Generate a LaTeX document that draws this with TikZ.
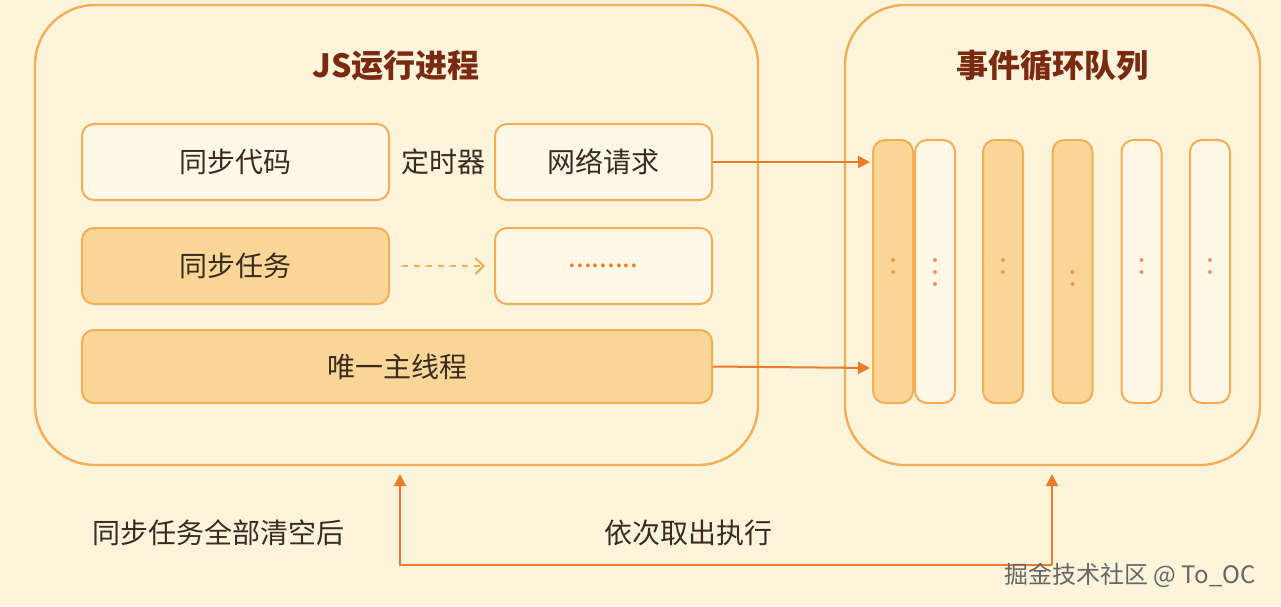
\documentclass[tikz,border=0pt]{standalone}
\usepackage{fontspec}
\setmainfont{Noto Sans CJK SC}
\usetikzlibrary{arrows.meta}
\definecolor{bgc}{HTML}{FDF4DC}
\definecolor{edge}{HTML}{F6AE55}
\definecolor{warm}{HTML}{FBD696}
\definecolor{pale}{HTML}{FFF8E8}
\definecolor{arr}{HTML}{EF7A2A}
\definecolor{ttl}{HTML}{7A2A10}
\definecolor{ink}{HTML}{3A2A20}
\tikzset{
  panel/.style={draw=edge, line width=1.2pt, fill=bgc, rounded corners=30pt},
  box/.style={draw=edge, line width=1pt, fill=pale, rounded corners=6pt, inner sep=0pt, text=ink, font=\fontsize{14}{16}\selectfont},
  hot/.style={box, fill=warm},
  col/.style={draw=edge, line width=1pt, fill=pale, rounded corners=7pt, minimum width=20pt, minimum height=131.5pt, inner sep=0pt},
  flow/.style={draw=arr, line width=1pt, -{Triangle[length=6pt,width=6pt]}},
  ttxt/.style={text=ttl, font=\bfseries\fontsize{16}{18}\selectfont},
  ptxt/.style={text=ink, font=\fontsize{14}{16}\selectfont},
  dot/.style={fill=arr!80, circle, inner sep=0pt, minimum size=2pt}
}
\begin{document}
\begin{tikzpicture}[x=0.5pt,y=-0.5pt]
    \fill[bgc] (0,0) rectangle (1281,606);
    \useasboundingbox (0,0) rectangle (1281,606);
    % the two panels
    \draw[panel] (35,5) rectangle (758,465);
    \draw[panel] (845,5) rectangle (1260,465);
    \node[ttxt] (jst) at (396,66) {JS运行进程};
    \node[ttxt] (qt) at (1052,66) {事件循环队列};
    % left panel
    \node[box, minimum width=153.5pt, minimum height=38pt] (sync) at (235.5,162) {同步代码};
    \node[ptxt] (timer) at (443,162) {定时器};
    \node[box, minimum width=108.5pt, minimum height=38pt] (net) at (603.5,162) {网络请求};
    \node[hot, minimum width=153.5pt, minimum height=38pt] (task) at (235.5,266) {同步任务};
    \node[box, minimum width=108.5pt, minimum height=38pt] (more) at (603.5,266) {\textcolor{arr}{.........}};
    \node[hot, minimum width=315pt, minimum height=36.5pt] (main) at (397,366.5) {唯一主线程};
    % queue columns
    \foreach \n/\x/\s in {1/893/hot,2/935/box,3/1003/hot,4/1072.5/hot,5/1141.5/box,6/1210/box}
      \node[col, \s] (c\n) at (\x,271.5) {};
    \foreach \x/\y in {893/260,893/272,935/260,935/272,935/284,1003/260,1003/272,1072.5/272,1072.5/284,1141.5/260,1141.5/272,1210/260,1210/272}
      \node[dot] at (\x,\y) {};
    \coordinate (qin) at (870,162);
    \coordinate (qmain) at (870,368);
    \draw[flow] (net.east) -- (qin);
    \draw[flow] (main.east) -- (qmain);
    \draw[draw=edge, line width=1pt, dashed, -{Straight Barb[length=4pt]}] (402,266) -- (485,266);
    % loop back
    \coordinate (lb) at (400,565);
    \coordinate (rb) at (1052,565);
    \coordinate (lt) at (400,474);
    \coordinate (rt) at (1052,474);
    \draw[flow] (rb) -- (rt);
    \draw[flow] (rb) -- (lb) -- (lt);
    \node[ptxt] (after) at (218,533) {同步任务全部清空后};
    \node[ptxt] (take) at (688,533) {依次取出执行};
    \node[text=gray!80!black, font=\fontsize{12}{14}\selectfont] (wm) at (1130,575) {掘金技术社区 @ To\_OC};
\end{tikzpicture}
\end{document}
